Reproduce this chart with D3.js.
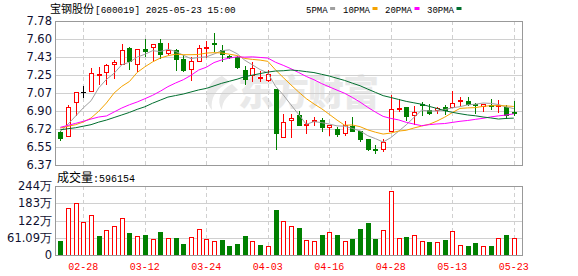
<!DOCTYPE html>
<html>
<head>
<meta charset="utf-8">
<script src="https://cdn.jsdelivr.net/npm/d3@7/dist/d3.min.js"></script>
<style>
html,body{margin:0;padding:0;background:#fff;}
svg{display:block;}
</style>
</head>
<body>
<svg id="chart" width="578" height="276"></svg>
<script>
// ---------------- DATA ----------------
const dates = ["02-25","02-26","02-27","02-28","03-03","03-04","03-05","03-06","03-07","03-10",
"03-11","03-12","03-13","03-14","03-17","03-18","03-19","03-20","03-21","03-24",
"03-25","03-26","03-27","03-28","03-31","04-01","04-02","04-03","04-07","04-08",
"04-09","04-10","04-11","04-14","04-15","04-16","04-17","04-18","04-21","04-22",
"04-23","04-24","04-25","04-28","04-29","04-30","05-06","05-07","05-08","05-09",
"05-12","05-13","05-14","05-15","05-16","05-19","05-20","05-21","05-22","05-23"];

const openP = [6.69,6.65,6.99,7.08,7.09,7.25,7.28,7.36,7.36,7.52,
7.36,7.51,7.53,7.565,7.47,7.50,7.41,7.31,7.39,7.52,
7.565,7.50,7.44,7.425,7.30,7.255,7.22,7.20,7.11,6.64,
6.81,6.855,6.765,6.81,6.815,6.74,6.72,6.68,6.755,6.70,
6.62,6.53,6.53,6.70,6.925,6.935,6.86,6.965,6.91,6.91,
6.935,6.935,7.00,7.00,6.965,6.945,6.96,6.95,6.935,6.89];

const closeP = [6.63,6.935,7.08,7.08,7.27,7.26,7.35,7.38,7.50,7.39,
7.51,7.49,7.555,7.46,7.50,7.41,7.30,7.385,7.52,7.53,
7.55,7.46,7.43,7.33,7.21,7.32,7.23,7.265,6.68,6.79,
6.835,6.76,6.775,6.815,6.74,6.765,6.67,6.76,6.705,6.62,
6.53,6.525,6.595,6.92,6.93,6.845,6.885,6.955,6.88,6.93,
6.91,6.975,7.01,6.97,6.96,6.968,6.955,6.955,6.855,6.875];

const highP = [6.706,6.955,7.085,7.14,7.32,7.33,7.362,7.395,7.555,7.522,
7.51,7.604,7.555,7.60,7.567,7.506,7.45,7.425,7.542,7.581,
7.663,7.548,7.45,7.434,7.336,7.376,7.287,7.303,7.11,6.869,
6.869,6.902,6.814,6.84,6.83,6.765,6.739,6.798,6.84,6.70,
6.62,6.563,6.624,7.052,7.016,6.935,6.945,6.987,6.967,6.941,
6.955,7.097,7.033,7.033,6.977,6.968,7.016,7.01,6.955,7.0];

const lowP = [6.618,6.65,6.863,7.035,7.09,7.166,7.166,7.222,7.362,7.313,
7.293,7.434,7.401,7.418,7.457,7.303,7.287,7.20,7.392,7.425,
7.483,7.392,7.42,7.32,7.166,7.196,7.19,7.19,6.53,6.64,
6.642,6.76,6.683,6.759,6.70,6.661,6.651,6.661,6.705,6.602,
6.514,6.488,6.51,6.70,6.902,6.808,6.772,6.863,6.869,6.879,
6.869,6.935,6.955,6.955,6.879,6.902,6.921,6.89,6.83,6.86];

// volume in 万手
const volume = [50.8,165.3,184.2,116.9,140.5,67.3,87.4,101.5,129.9,77.9,
66.1,70.8,55.5,81.5,59.0,60.2,39.0,62.6,90.9,55.5,
49.6,53.1,31.9,39.0,67.3,49.6,35.4,30.7,159.4,119.2,
101.5,95.6,51.9,49.6,70.8,81.5,70.8,49.6,56.7,92.1,
114.5,56.7,87.4,225.5,59.0,63.7,69.7,49.6,47.2,46.0,
53.1,83.8,34.2,31.9,42.5,30.7,31.9,59.0,70.8,59.6];

const ma5 = [6.70,6.77,6.85,6.93,6.999,7.125,7.208,7.268,7.352,7.376,
7.426,7.454,7.489,7.481,7.503,7.483,7.445,7.411,7.423,7.429,
7.457,7.489,7.498,7.46,7.396,7.35,7.304,7.271,7.141,7.057,
6.96,6.866,6.768,6.795,6.785,6.771,6.753,6.75,6.728,6.704,
6.657,6.628,6.595,6.638,6.70,6.763,6.835,6.907,6.899,6.899,
6.912,6.93,6.941,6.959,6.965,6.977,6.973,6.962,6.939,6.922];

const ma10 = [6.732,6.749,6.765,6.791,6.83,6.896,6.977,7.075,7.14,7.188,
7.276,7.331,7.379,7.417,7.440,7.455,7.450,7.450,7.452,7.466,
7.470,7.467,7.455,7.442,7.413,7.404,7.397,7.385,7.301,7.227,
7.155,7.085,7.020,6.968,6.921,6.866,6.810,6.759,6.762,6.745,
6.714,6.691,6.673,6.683,6.702,6.710,6.732,6.751,6.769,6.800,
6.838,6.883,6.924,6.929,6.932,6.944,6.951,6.951,6.949,6.943];

const ma20 = [6.739,6.758,6.778,6.798,6.82,6.84,6.85,6.889,6.928,6.96,
6.987,7.019,7.052,7.092,7.137,7.173,7.205,7.248,7.30,7.327,
7.373,7.399,7.417,7.429,7.426,7.429,7.423,7.417,7.376,7.346,
7.313,7.276,7.237,7.205,7.167,7.135,7.103,7.072,7.031,6.986,
6.935,6.888,6.846,6.826,6.812,6.788,6.771,6.755,6.765,6.772,
6.776,6.787,6.798,6.806,6.817,6.827,6.841,6.851,6.859,6.871];

const ma30 = [6.715,6.725,6.735,6.75,6.765,6.79,6.81,6.835,6.86,6.885,
6.915,6.94,6.975,7.005,7.035,7.05,7.065,7.085,7.105,7.12,
7.145,7.17,7.19,7.21,7.235,7.25,7.265,7.28,7.29,7.293,
7.300,7.294,7.284,7.275,7.258,7.241,7.219,7.198,7.171,7.146,
7.113,7.081,7.049,7.031,7.012,6.993,6.979,6.965,6.944,6.924,
6.902,6.886,6.872,6.860,6.852,6.840,6.831,6.820,6.826,6.829];

const priceTickLabels = ["6.37","6.55","6.72","6.90","7.07","7.25","7.43","7.60","7.78"];
const volTickLabels = ["0","61.09万","122万","183万","244万"];
const dateTicks = ["02-28","03-12","03-24","04-03","04-16","04-28","05-13","05-23"];
const title = "宝钢股份";
const code = "[600019] 2025-05-23 15:00";
const volTitle = "成交量";
const volLast = ":596154";
const maNames = ["5PMA","10PMA","20PMA","30PMA"];

// ---------------- STYLE ----------------
const RED = "#ff0000", GREEN = "#008000";
const maColors = ["#a0a0a0","#f5a300","#ff00ff","#006e2e"];
const labelColor = "#101030";
const gridColor = "#d0d0d0";
const frameColor = "#999999";

const svg = d3.select("#chart");
const L = 55, R = 522;
const pTop = 21, pBot = 165, vTop = 186, vBot = 255;

const x = d3.scalePoint().domain(dates).range([60.3, 513.8]);
const yP = d3.scaleLinear().domain([6.37, 7.78]).range([pBot, pTop]);
const yV = d3.scaleLinear().domain([0, 244.36]).range([vBot, vTop]);
const crisp = v => Math.round(v) + 0.5;

const priceTicks = d3.range(9).map(k => 6.37 + k * (7.78 - 6.37) / 8);
const volTicks = d3.range(5).map(k => k * 244.36 / 4);

// ---------------- HEADER ----------------
const head = svg.append("text").attr("x", 50).attr("y", 13).attr("fill", "#000");
head.append("tspan").attr("font-family", "'Noto Sans CJK SC'").attr("font-size", 11).text(title);
head.append("tspan").attr("font-family", "'Liberation Mono'").attr("font-size", 9.4).attr("dx", 1).text(code);

const legX = [306, 343, 385, 427];
maNames.forEach((n, i) => {
  svg.append("text").attr("x", legX[i]).attr("y", 12.5)
    .attr("font-family", "'Liberation Mono'").attr("font-size", 9)
    .attr("fill", "#000").text(n);
  svg.append("rect").attr("x", legX[i] + n.length * 5.4 + 2.5).attr("y", 7)
    .attr("width", 5).attr("height", 3).attr("fill", maColors[i]);
});

// ---------------- PRICE PANEL ----------------
const gP = svg.append("g");
// watermark
const wm = gP.append("g").attr("fill", "#e9e9e9");
wm.append("path").attr("d", "M222,76 C206,82 202,98 212,110 C210,98 216,88 230,82 Z M232,84 C220,90 216,100 222,110 C222,101 228,94 238,90 Z");
wm.append("text").attr("x", 238).attr("y", 106).attr("font-family", "'Noto Sans CJK SC'")
  .attr("font-weight", 900).attr("font-size", 36).attr("letter-spacing", -1).text("东方财富");

// horizontal grid
gP.selectAll(".hg").data(priceTicks.slice(1, -1)).join("line")
  .attr("x1", L).attr("x2", R).attr("y1", d => crisp(yP(d))).attr("y2", d => crisp(yP(d)))
  .attr("stroke", gridColor).attr("stroke-width", 1);
// vertical dashed grid
gP.selectAll(".vg").data(dateTicks).join("line")
  .attr("x1", d => crisp(x(d))).attr("x2", d => crisp(x(d)))
  .attr("y1", pTop).attr("y2", pBot)
  .attr("stroke", gridColor).attr("stroke-dasharray", "4,3");

// price labels
svg.selectAll(".pl").data(priceTicks).join("text")
  .attr("x", 52).attr("y", d => yP(d)).attr("dy", "0.35em")
  .attr("text-anchor", "end").attr("font-family", "'DejaVu Sans'").attr("font-size", 11.5)
  .attr("fill", labelColor).text((d, i) => priceTickLabels[i]);

// candles
const candles = dates.map((d, i) => ({d, o: openP[i], c: closeP[i], h: highP[i], l: lowP[i]}));
const cColor = k => k.c > k.o ? RED : (k.c < k.o ? GREEN : "#000");
const gC = gP.append("g");
candles.forEach(k => {
  const cx = Math.round(x(k.d));
  const col = cColor(k);
  gC.append("line").attr("x1", cx + 0.5).attr("x2", cx + 0.5)
    .attr("y1", Math.round(yP(k.h))).attr("y2", Math.round(yP(k.l)) + 1)
    .attr("stroke", col).attr("stroke-width", 1);
  const yt = Math.round(yP(Math.max(k.o, k.c)));
  const yb = Math.round(yP(Math.min(k.o, k.c)));
  if (k.c > k.o) {
    const h = Math.max(yb - yt, 1);
    gC.append("rect").attr("x", cx - 2 + 0.5).attr("y", yt + 0.5)
      .attr("width", 4).attr("height", h)
      .attr("fill", "#fff").attr("stroke", RED).attr("stroke-width", 1);
  } else if (k.c < k.o) {
    gC.append("rect").attr("x", cx - 2).attr("y", yt)
      .attr("width", 5).attr("height", Math.max(yb - yt, 1) + 1).attr("fill", GREEN);
  } else {
    gC.append("rect").attr("x", cx - 2).attr("y", yt)
      .attr("width", 5).attr("height", 1).attr("fill", col);
  }
});

// MA lines
[ma5, ma10, ma20, ma30].forEach((arr, j) => {
  const line = d3.line().x((v, i) => x(dates[i])).y(v => yP(v));
  gP.append("path").datum(arr).attr("d", line)
    .attr("fill", "none").attr("stroke", maColors[j]).attr("stroke-width", 1);
});

// frame
svg.append("rect").attr("x", L + 0.5).attr("y", pTop + 0.5)
  .attr("width", R - L).attr("height", pBot - pTop)
  .attr("fill", "none").attr("stroke", frameColor).attr("stroke-width", 1);

// ---------------- VOLUME PANEL ----------------
const vt = svg.append("text").attr("x", 57).attr("y", 181.5).attr("fill", "#000");
vt.append("tspan").attr("font-family", "'Noto Sans CJK SC'").attr("font-size", 12).text(volTitle);
vt.append("tspan").attr("font-family", "'Liberation Mono'").attr("font-size", 10).text(volLast);

const gV = svg.append("g");
gV.selectAll(".vhg").data(volTicks.slice(1, -1)).join("line")
  .attr("x1", L).attr("x2", R).attr("y1", d => crisp(yV(d))).attr("y2", d => crisp(yV(d)))
  .attr("stroke", gridColor);
gV.selectAll(".vvg").data(dateTicks).join("line")
  .attr("x1", d => crisp(x(d))).attr("x2", d => crisp(x(d)))
  .attr("y1", vTop).attr("y2", vBot)
  .attr("stroke", gridColor).attr("stroke-dasharray", "4,3");

svg.selectAll(".vl").data(volTicks).join("text")
  .attr("x", 52).attr("y", d => yV(d)).attr("dy", "0.35em")
  .attr("text-anchor", "end").attr("font-family", "'DejaVu Sans'").attr("font-size", 11.5)
  .attr("fill", labelColor).text((d, i) => volTickLabels[i]);

dates.forEach((d, i) => {
  const up = i > 0 && closeP[i] >= closeP[i - 1];
  const cx = Math.round(x(d));
  const yt = Math.round(yV(volume[i]));
  if (up) {
    gV.append("rect").attr("x", cx - 2 + 0.5).attr("y", yt + 0.5)
      .attr("width", 4).attr("height", vBot - yt)
      .attr("fill", "#fff").attr("stroke", RED);
  } else {
    gV.append("rect").attr("x", cx - 2).attr("y", yt)
      .attr("width", 5).attr("height", vBot - yt + 1).attr("fill", GREEN);
  }
});

svg.append("rect").attr("x", L + 0.5).attr("y", vTop + 0.5)
  .attr("width", R - L).attr("height", vBot - vTop)
  .attr("fill", "none").attr("stroke", frameColor);

// date labels
svg.selectAll(".dl").data(dateTicks).join("text")
  .attr("x", d => x(d)).attr("y", 266).attr("dy", "0.35em")
  .attr("text-anchor", "middle").attr("font-family", "'Liberation Mono'").attr("font-size", 10)
  .attr("fill", RED).text(d => d);
</script>
</body>
</html>
